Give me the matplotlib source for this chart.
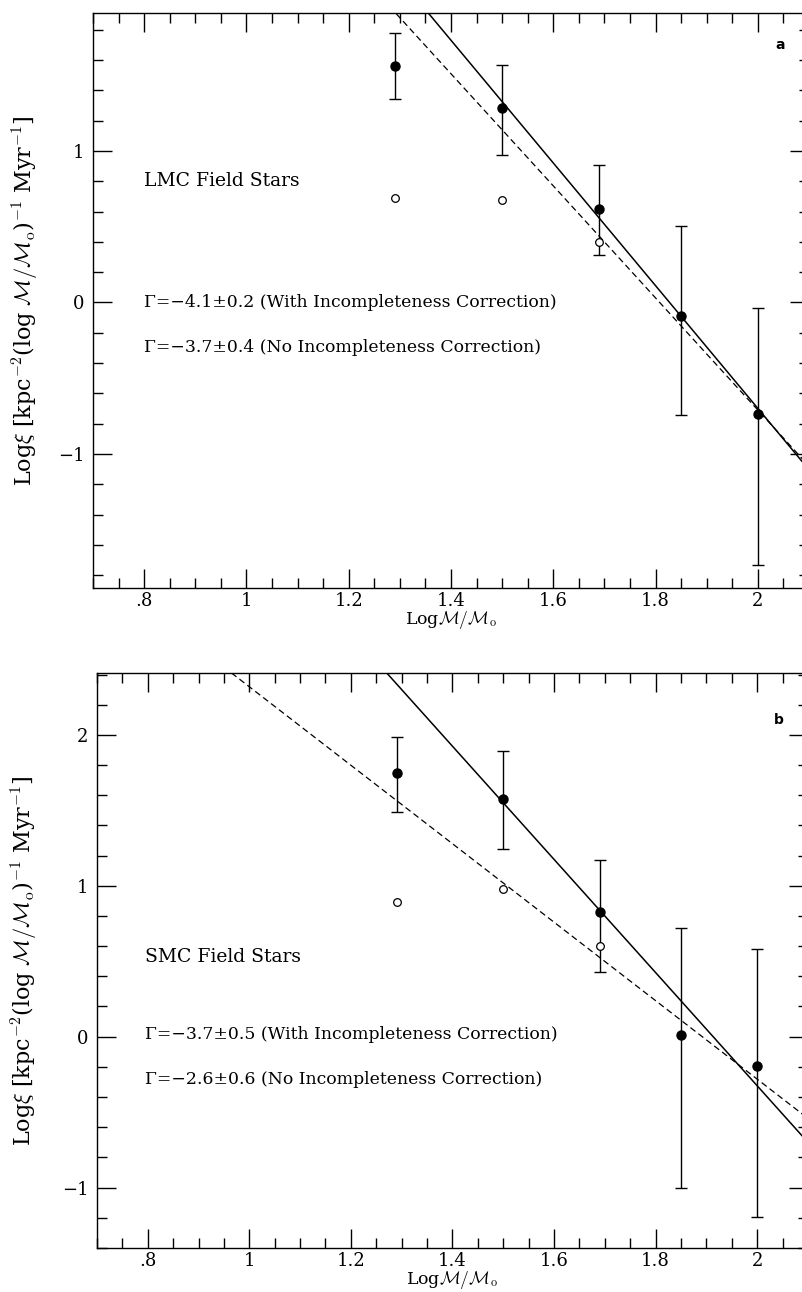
import matplotlib
matplotlib.use("Agg")
import matplotlib.pyplot as plt
import numpy as np
from matplotlib.ticker import MultipleLocator, FuncFormatter

plt.rcParams['font.family'] = ['DejaVu Serif']
plt.rcParams['mathtext.fontset'] = 'cm'

# LMC (panel a)
lmc_x = [1.29, 1.50, 1.69, 1.85, 2.00]
lmc_y = [1.56, 1.28, 0.615, -0.09, -0.735]
lmc_err_hi = [0.22, 0.29, 0.29, 0.595, 0.70]
lmc_err_lo = [0.22, 0.31, 0.30, 0.655, 1.00]
lmc_open_x = [1.29, 1.50, 1.69]
lmc_open_y = [0.69, 0.677, 0.397]
lmc_fit_solid = [-4.05, 1.325, 1.50]   # slope, value at x0, x0
lmc_fit_dash = [-3.70, 1.139, 1.50]

# SMC (panel b)
smc_x = [1.29, 1.50, 1.69, 1.85, 2.00]
smc_y = [1.745, 1.576, 0.828, 0.009, -0.197]
smc_err_hi = [0.24, 0.32, 0.346, 0.708, 0.778]
smc_err_lo = [0.253, 0.331, 0.402, 1.009, 1.00]
smc_open_x = [1.29, 1.50, 1.69]
smc_open_y = [0.894, 0.98, 0.598]
smc_fit_solid = [-3.75, 1.55, 1.50]
smc_fit_dash = [-2.60, 1.57, 1.288]

ylab = (r"Log$\xi$ [kpc$^{-2}$(log $\mathcal{M}/\mathcal{M}_{\rm o}$)$^{-1}$ Myr$^{-1}$]")
xlab = r"Log$\mathcal{M}/\mathcal{M}_{\rm o}$"


def xfmt(v, pos):
    s = "%g" % round(v, 2)
    if s.startswith("0."):
        s = s[1:]
    return s


def yfmt(v, pos):
    return ("\u22121" if v < 0 else "%d" % v) if v != 0 else "0"


def panel(ax, x, y, lo, hi, ox, oy, fs, fd, ylim, name, gam1, gam2, tag, tagy,
          namey, gy, tx, ylx):
    xs = np.linspace(0.7, 2.1, 50)
    ax.plot(xs, fs[1] + fs[0] * (xs - fs[2]), color='black', lw=1.1)
    ax.plot(xs, fd[1] + fd[0] * (xs - fd[2]), color='black', lw=0.9,
            dashes=(5, 3))
    ax.errorbar(x, y, yerr=[lo, hi], fmt='o', color='black', ms=6.5,
                capsize=4, elinewidth=1.0, capthick=1.0)
    ax.plot(ox, oy, 'o', mfc='white', mec='black', ms=5.5, mew=0.9)
    ax.set_xlim(0.7, 2.1)
    ax.set_ylim(*ylim)
    ax.xaxis.set_major_locator(MultipleLocator(0.2))
    ax.xaxis.set_minor_locator(MultipleLocator(0.05))
    ax.yaxis.set_major_locator(MultipleLocator(1))
    ax.yaxis.set_minor_locator(MultipleLocator(0.2))
    ax.xaxis.set_major_formatter(FuncFormatter(xfmt))
    ax.yaxis.set_major_formatter(FuncFormatter(yfmt))
    ax.tick_params(which='both', direction='in', top=True, right=True,
                   labelsize=13, width=1.0)
    ax.tick_params(which='major', length=14, pad=6)
    ax.tick_params(axis='x', which='major', pad=3)
    ax.tick_params(which='minor', length=7)
    for sp in ax.spines.values():
        sp.set_linewidth(1.0)
    ax.set_xlabel(xlab, fontsize=12.5)
    ax.xaxis.set_label_coords(0.5, -0.056)
    ax.xaxis.label.set_va('center')
    ax.set_ylabel(ylab, fontsize=16)
    ax.yaxis.set_label_coords(ylx, 0.5)
    ax.text(tx, namey, name, fontsize=13.5, va='center', ha='left')
    ax.text(tx, gy[0], gam1, fontsize=12.4, va='center', ha='left')
    ax.text(tx, gy[1], gam2, fontsize=12.4, va='center', ha='left')
    ax.text(2.043, tagy, tag, fontsize=10, fontweight='bold',
            family='DejaVu Sans', va='center', ha='center')


fig = plt.figure(figsize=(8.02, 12.92), dpi=100)
ax1 = fig.add_axes([0.1160, 0.5449, 0.8928, 0.4450])
ax2 = fig.add_axes([0.1209, 0.0341, 0.8865, 0.4450])

panel(ax1, lmc_x, lmc_y, lmc_err_lo, lmc_err_hi, lmc_open_x, lmc_open_y,
      lmc_fit_solid, lmc_fit_dash, (-1.885, 1.91), "LMC Field Stars",
      "\u0393=\u22124.1\u00b10.2 (With Incompleteness Correction)",
      "\u0393=\u22123.7\u00b10.4 (No Incompleteness Correction)",
      "a", 1.70, 0.80, (0.0, -0.30), 0.80, -0.072)
panel(ax2, smc_x, smc_y, smc_err_lo, smc_err_hi, smc_open_x, smc_open_y,
      smc_fit_solid, smc_fit_dash, (-1.40, 2.41), "SMC Field Stars",
      "\u0393=\u22123.7\u00b10.5 (With Incompleteness Correction)",
      "\u0393=\u22122.6\u00b10.6 (No Incompleteness Correction)",
      "b", 2.10, 0.53, (0.013, -0.285), 0.795, -0.080)

fig.savefig("out.png", dpi=100)
